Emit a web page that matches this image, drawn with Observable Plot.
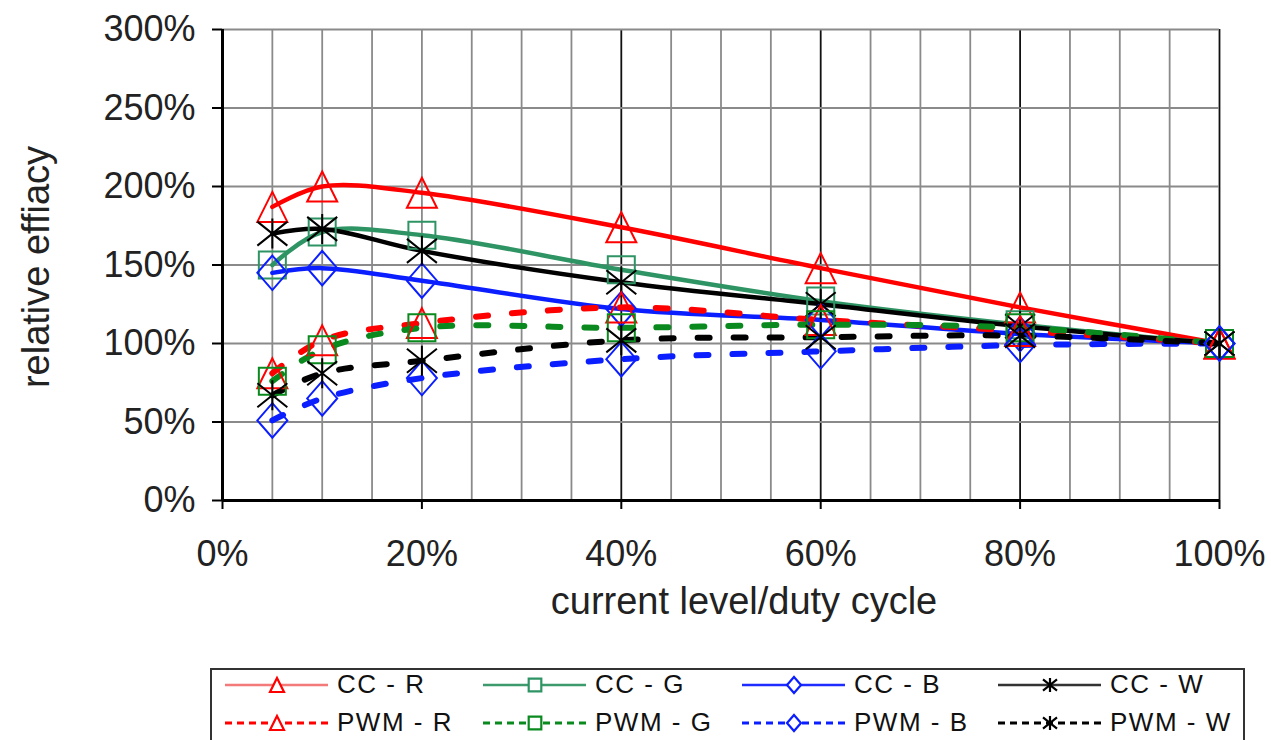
<!DOCTYPE html>
<html><head><meta charset="utf-8">
<script src="https://cdn.jsdelivr.net/npm/d3@7"></script>
<script src="https://cdn.jsdelivr.net/npm/@observablehq/plot@0.6"></script>
<style>
html,body{margin:0;padding:0;background:#fff;overflow:hidden;width:1271px;height:740px;}
body{font-family:"Liberation Sans",Arial,sans-serif;position:relative;}
#chart{position:absolute;left:0;top:0;}
#legend{position:absolute;left:210px;top:668px;}
</style></head><body>
<div id="chart"></div><div id="legend"></div>
<script>
// ---- data ----
const xLevels = [5, 10, 20, 40, 60, 80, 100];
const ccR  = [187, 200, 196, 174, 148, 123, 100];
const ccG  = [150, 171, 169, 147, 127, 112, 100];
const ccB  = [145, 148, 140, 122, 115, 106, 100];
const ccW  = [170, 173, 159, 139, 125, 111, 100];
const pwmR = [81, 102, 113, 123, 115, 108, 100];
const pwmG = [76, 96, 110, 110, 112, 110, 100];
const pwmB = [51, 65, 78, 90, 95, 99, 100];
const pwmW = [67, 81, 89, 102, 104, 105, 100];
const seriesNames = ["CC - R","CC - G","CC - B","CC - W","PWM - R","PWM - G","PWM - B","PWM - W"];
const xTicks = [0, 20, 40, 60, 80, 100];
const yTicks = [0, 50, 100, 150, 200, 250, 300];

// ---- marker shapes ----
const tri = {draw(c, size){const r=Math.sqrt(size/Math.PI); c.moveTo(0,-r); c.lineTo(r,r); c.lineTo(-r,r); c.closePath();}};
const sq = {draw(c, size){const r=Math.sqrt(size/Math.PI)*0.9; c.rect(-r,-r,2*r,2*r);}};
const dia = {draw(c, size){const r=Math.sqrt(size/Math.PI); c.moveTo(0,-r*1.15); c.lineTo(r,0); c.lineTo(0,r*1.15); c.lineTo(-r,0); c.closePath();}};
const star = {draw(c, size){const r=Math.sqrt(size/Math.PI); c.moveTo(0,-r); c.lineTo(0,r); c.moveTo(-r,-r*0.8); c.lineTo(r,r*0.8); c.moveTo(r,-r*0.8); c.lineTo(-r,r*0.8);}};

const series = [
  {name: seriesNames[0], values: ccR,  color: "#ff0000", legendColor:"#f47a7a", dashed: false, sym: tri},
  {name: seriesNames[1], values: ccG,  color: "#2f9464", legendColor:"#3c9a6c", dashed: false, sym: sq},
  {name: seriesNames[2], values: ccB,  color: "#0a1eff", legendColor:"#1e2cff", dashed: false, sym: dia},
  {name: seriesNames[3], values: ccW,  color: "#000000", legendColor:"#333333", dashed: false, sym: star},
  {name: seriesNames[4], values: pwmR, color: "#ff0000", legendColor:"#ff0000", dashed: true, sym: tri},
  {name: seriesNames[5], values: pwmG, color: "#0a8a1e", legendColor:"#0a8a1e", dashed: true, sym: sq},
  {name: seriesNames[6], values: pwmB, color: "#0a1eff", legendColor:"#0a1eff", dashed: true, sym: dia},
  {name: seriesNames[7], values: pwmW, color: "#000000", legendColor:"#000000", dashed: true, sym: star}
];
const rowsOf = s => xLevels.map((x, i) => ({x, y: s.values[i], name: s.name}));

const minorX = d3.range(5, 100, 5).filter(v => v % 20 !== 0).concat([20]);
const majorX = [40, 60, 80, 100];

const lineMarks = series.map(s => Plot.line(rowsOf(s), {
  x: "x", y: "y", stroke: s.color, strokeWidth: s.dashed ? 6 : 4.5,
  strokeDasharray: s.dashed ? "12,24" : null, curve: "catmull-rom"
}));
const dotMarks = series.map(s => Plot.dot(rowsOf(s), {
  x: "x", y: "y", symbol: s.sym, r: 15, stroke: s.color, strokeWidth: 2, fill: "none"
}));

const svg = Plot.plot({
  width: 1271, height: 640,
  marginLeft: 222, marginRight: 52, marginTop: 29, marginBottom: 140,
  x: {domain: [0, 100]},
  y: {domain: [0, 300]},
  style: {fontFamily: '"Liberation Sans", Arial, sans-serif', background: "white", color: "#222"},
  marks: [
    Plot.ruleX(minorX, {stroke: "#8a8a8a", strokeWidth: 1.8}),
    Plot.ruleX(majorX, {stroke: "#111", strokeWidth: 1.8}),
    Plot.ruleY(yTicks.filter(v => v > 0), {stroke: "#8a8a8a", strokeWidth: 2}),
    ...lineMarks,
    ...dotMarks,
    Plot.ruleX([0], {stroke: "#000", strokeWidth: 3}),
    Plot.ruleY([0], {stroke: "#000", strokeWidth: 3}),
    Plot.axisX({ticks: xTicks, tickFormat: d => d + "%", tickSize: 9, tickPadding: 31, fontSize: 36, label: null, stroke: "#000", strokeWidth: 2, fill: "#222"}),
    Plot.axisY({ticks: yTicks, tickFormat: d => d + "%", tickSize: 10, tickPadding: 17, fontSize: 36, label: null, stroke: "#000", strokeWidth: 2, fill: "#222"})
  ]
});
const s = d3.select(svg);
s.append("text").attr("x", 744).attr("y", 614).attr("text-anchor", "middle")
  .attr("font-size", 38).attr("fill", "#222").text("current level/duty cycle");
s.append("text").attr("transform", "translate(49,267) rotate(-90)").attr("text-anchor", "middle")
  .attr("font-size", 38).attr("fill", "#222").text("relative effiacy");
document.getElementById("chart").appendChild(svg);

// ---- legend ----
const lg = d3.select("#legend").append("svg").attr("width", 1036).attr("height", 90)
  .style("font-family", '"Liberation Sans", Arial, sans-serif');
lg.append("rect").attr("x", 1).attr("y", 1).attr("width", 1033).attr("height", 100)
  .attr("fill", "white").attr("stroke", "#333").attr("stroke-width", 2);
const colX = [15, 273, 532, 788];
const rowY = [17, 55];
series.forEach((sr, i) => {
  const col = i % 4, row = Math.floor(i / 4);
  const x0 = colX[col], y0 = rowY[row];
  lg.append("line").attr("x1", x0).attr("x2", x0 + 103).attr("y1", y0).attr("y2", y0)
    .attr("stroke", sr.legendColor).attr("stroke-width", sr.dashed ? 3 : 2.5)
    .attr("stroke-dasharray", sr.dashed ? "7,5" : null);
  lg.append("path").attr("transform", `translate(${x0 + 52},${y0})`)
    .attr("d", d3.symbol(sr.sym, Math.PI * 7 * 7)())
    .attr("fill", "white").attr("stroke", sr.color).attr("stroke-width", 2.2);
  lg.append("text").attr("x", x0 + 112).attr("y", y0 + 8).attr("font-size", 26)
    .attr("letter-spacing", 1.5).attr("fill", "#111").text(sr.name);
});
</script></body></html>
